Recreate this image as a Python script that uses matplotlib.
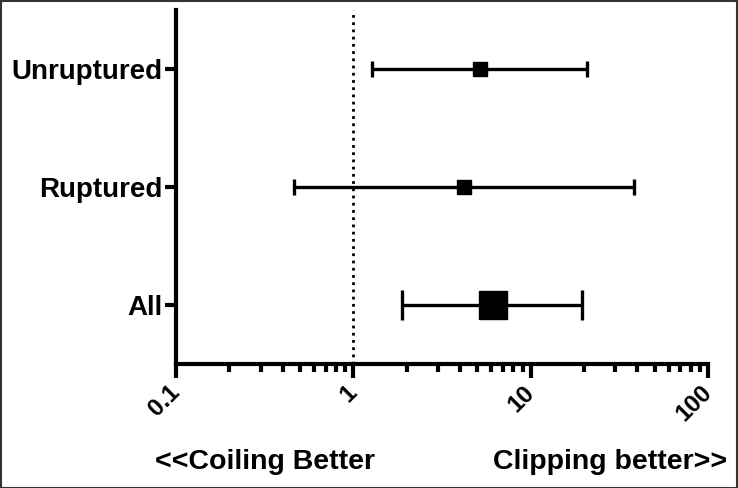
import numpy as np
import matplotlib
matplotlib.use("Agg")
import matplotlib.pyplot as plt
from matplotlib.patches import Rectangle
from matplotlib.ticker import LogLocator, FixedLocator, NullFormatter

plt.rcParams['font.family'] = ['Liberation Sans', 'DejaVu Sans']
plt.rcParams['font.weight'] = 'bold'

# odds ratios with 95% CI
groups = ["All", "Ruptured", "Unruptured"]
estimates = [6.1, 4.2, 5.2]
ci_low = [1.89, 0.46, 1.28]
ci_high = [19.6, 38.5, 20.9]
marker_sizes = [20, 10, 10]
cap_sizes = [11, 6, 6]
x_ticks = [0.1, 1, 10, 100]
x_ticklabels = ["0.1", "1", "10", "100"]

fig = plt.figure(figsize=(7.38, 4.88), dpi=100)
ax = fig.add_axes([0.2385, 0.254, 0.7208, 0.7255])

ypos = np.arange(len(groups))
for i in range(len(groups)):
    ax.errorbar(estimates[i], ypos[i],
                xerr=[[estimates[i] - ci_low[i]], [ci_high[i] - estimates[i]]],
                fmt='s', color='black', ms=marker_sizes[i], elinewidth=2.4,
                capsize=cap_sizes[i], capthick=2.4, zorder=3)

ax.axvline(1, color='black', linestyle=(0, (1, 1.6)), lw=2, zorder=1)

ax.set_xscale('log')
ax.set_xlim(0.1, 100)
ax.set_ylim(-0.5, 2.5)

ax.set_yticks(ypos)
ax.set_yticklabels(groups, fontsize=20, fontweight='bold')
ax.xaxis.set_major_locator(FixedLocator(x_ticks))
ax.set_xticklabels(x_ticklabels, fontsize=17.5, fontweight='bold',
                   rotation=45, ha='right', va='center', rotation_mode='anchor')
ax.xaxis.set_minor_locator(LogLocator(base=10, subs=np.arange(2, 10)))
ax.xaxis.set_minor_formatter(NullFormatter())

for s in ['top', 'right']:
    ax.spines[s].set_visible(False)
for s in ['left', 'bottom']:
    ax.spines[s].set_linewidth(3)
ax.tick_params(axis='x', which='major', length=10, width=3, pad=8)
ax.tick_params(axis='x', which='minor', length=6, width=3)
ax.tick_params(axis='y', which='major', length=8, width=3, pad=2)

fig.text(155/738, 1 - 462/488, "<<Coiling Better", fontsize=20.5, fontweight='bold',
         ha='left', va='center')
fig.text(727/738, 1 - 462/488, "Clipping better>>", fontsize=20.5, fontweight='bold',
         ha='right', va='center')

fig.patches.append(Rectangle((0.001, 0.001), 0.997, 0.996, transform=fig.transFigure,
                             fill=False, edgecolor='#333333', lw=1.5))

fig.savefig("out.png", dpi=100)
